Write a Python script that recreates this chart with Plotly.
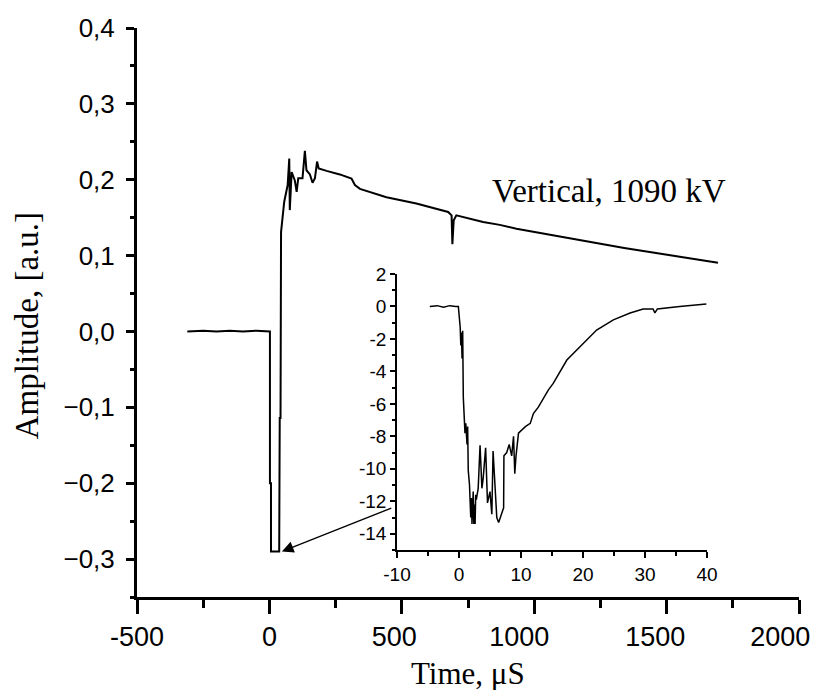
import plotly.graph_objects as go

# main trace: time (us) vs amplitude (a.u.)
main_t = [-310, -250, -200, -150, -100, -50, 2, 2, 6, 6, 37, 39, 42, 44, 56, 62, 69, 75, 77, 84, 96,
          103, 109, 125, 134, 140, 153, 163, 172, 180, 186, 216, 266, 310, 323, 342, 442, 555, 675,
          688, 691, 696, 706, 807, 870, 933, 1058, 1150, 1247, 1340, 1436, 1562, 1694]
main_amp = [0.0, 0.001, 0.0, 0.001, 0.0, 0.001, 0.0, -0.2, -0.2, -0.29, -0.29, -0.114, -0.114, 0.131,
            0.171, 0.182, 0.193, 0.228, 0.160, 0.210, 0.199, 0.184, 0.202, 0.202, 0.238, 0.2125,
            0.207, 0.196, 0.202, 0.224, 0.215, 0.2117, 0.207, 0.2015, 0.193, 0.188, 0.177, 0.1686,
            0.1575, 0.153, 0.115, 0.1465, 0.153, 0.1443, 0.1405, 0.1355, 0.1275, 0.1215, 0.1157,
            0.110, 0.1047, 0.098, 0.0907]

# inset: first 40 us
ins_t = [-4.7, -3.5, -2.5, -1.5, -0.5, -0.1, 0.2, 0.3, 0.4, 0.5, 0.6, 0.7, 0.97, 1.1, 1.3, 1.4, 1.5,
         1.7, 1.9, 2.0, 2.1, 2.2, 2.3, 2.4, 2.5, 2.6, 2.7, 2.8, 3.1, 3.4, 3.7, 3.9, 4.3, 4.6, 5.0,
         5.3, 5.5, 5.8, 6.1, 6.4, 7.2, 7.25, 7.7, 8.1, 8.5, 8.8, 9.0, 9.2, 9.6, 10.7, 11.5, 12.0,
         12.8, 14.4, 15.2, 17.4, 19.5, 22.2, 24.9, 27.6, 29.7, 31.3, 31.6, 32.0, 35.6, 39.9]
ins_amp = [0.0, 0.05, -0.05, 0.05, 0.0, 0.0, -1.3, -2.4, -1.6, -3.2, -1.5, -5.6, -7.8, -7.2, -8.5,
           -7.4, -10.1, -11.0, -13.0, -11.8, -13.4, -12.0, -11.4, -13.4, -12.2, -13.4, -11.6, -11.9,
           -11.2, -8.55, -11.2, -10.6, -8.7, -12.1, -11.4, -12.8, -8.9, -11.2, -13.0, -13.3, -12.4,
           -9.2, -9.0, -8.5, -9.2, -8.0, -10.3, -9.2, -7.8, -7.4, -7.2, -6.6, -6.2, -5.15, -4.74,
           -3.3, -2.5, -1.45, -0.83, -0.4, -0.16, -0.15, -0.4, -0.15, -0.01, 0.15]

main_yticks = [-0.3, -0.2, -0.1, 0.0, 0.1, 0.2, 0.3, 0.4]
main_ylabels = ["\u22120,3", "\u22120,2", "\u22120,1", "0,0", "0,1", "0,2", "0,3", "0,4"]
main_xticks = [-500, 0, 500, 1000, 1500, 2000]
# the original labels sit a little left of their ticks; trailing no-break spaces nudge them
NB = "\u00a0"
main_xlabels = ["-500", "0", "500" + NB * 2, "1000" + NB * 4, "1500" + NB * 3, "2000" + NB * 5]
ins_yticks = [-14, -12, -10, -8, -6, -4, -2, 0, 2]
ins_xticks = [-10, 0, 10, 20, 30, 40]

SANS = "Liberation Sans, Arial, sans-serif"
SERIF = "Liberation Serif, Times New Roman, serif"

fig = go.Figure()
fig.add_trace(go.Scatter(x=main_t, y=main_amp, mode="lines",
                         line=dict(color="black", width=2), xaxis="x", yaxis="y"))
fig.add_trace(go.Scatter(x=ins_t, y=ins_amp, mode="lines",
                         line=dict(color="black", width=1.5), xaxis="x2", yaxis="y2"))

# page body keeps an 8px margin, so the figure is 16px smaller than the window
fig.update_layout(
    width=808, height=682,
    margin=dict(l=129, r=17, t=20, b=93),
    paper_bgcolor="white", plot_bgcolor="rgba(0,0,0,0)",
    showlegend=False,
    xaxis=dict(range=[-500, 2000], tickvals=main_xticks, ticktext=main_xlabels,
               showline=True, linecolor="black", linewidth=3, mirror=False,
               ticks="outside", ticklen=14, tickwidth=3, tickcolor="black",
               minor=dict(dtick=250, tick0=0, ticks="outside", ticklen=8, tickwidth=3, tickcolor="black"),
               showgrid=False, zeroline=False, automargin=False, ticklabeloverflow="allow",
               tickfont=dict(family=SANS, size=27, color="black")),
    yaxis=dict(range=[-0.35, 0.4], tickvals=main_yticks, ticktext=main_ylabels,
               showline=True, linecolor="black", linewidth=3,
               ticks="outside", ticklen=8, tickwidth=3, tickcolor="black",
               minor=dict(dtick=0.05, tick0=0, ticks="outside", ticklen=4, tickwidth=3, tickcolor="black"),
               showgrid=False, zeroline=False, automargin=False, ticklabelstandoff=6,
               tickfont=dict(family=SANS, size=26, color="black")),
    xaxis2=dict(domain=[0.3927, 0.861], anchor="y2", range=[-10, 40], tickvals=ins_xticks,
                ticktext=[str(v) for v in ins_xticks],
                showline=True, linecolor="black", linewidth=1.5,
                ticks="outside", ticklen=6, tickwidth=1.5, tickcolor="black",
                minor=dict(dtick=5, tick0=0, ticks="outside", ticklen=4, tickwidth=1.5, tickcolor="black"),
                showgrid=False, zeroline=False, automargin=False,
                tickfont=dict(family=SANS, size=19, color="black")),
    yaxis2=dict(domain=[0.0826, 0.5677], anchor="x2", range=[-15, 2], tickvals=ins_yticks,
                ticktext=[str(v) for v in ins_yticks],
                showline=True, linecolor="black", linewidth=1.5,
                ticks="outside", ticklen=5, tickwidth=1.5, tickcolor="black",
                minor=dict(dtick=1, tick0=0, ticks="outside", ticklen=3, tickwidth=1.5, tickcolor="black"),
                showgrid=False, zeroline=False, automargin=False,
                tickfont=dict(family=SANS, size=19, color="black")),
    annotations=[
        dict(x=47, y=-0.29, ax=466, ay=-0.232, xref="x", yref="y", axref="x", ayref="y",
             showarrow=True, arrowhead=2, arrowsize=1.8, arrowwidth=1.3, arrowcolor="black", text=""),
        dict(x=1281, y=0.185, xref="x", yref="y", text="Vertical, 1090 kV", showarrow=False,
             xanchor="center", yanchor="middle", font=dict(family=SERIF, size=33, color="black")),
        dict(x=0.5, y=-0.135, xref="paper", yref="paper", text="Time, \u03bcS", showarrow=False,
             xanchor="center", yanchor="middle", font=dict(family=SERIF, size=31, color="black")),
        dict(x=-0.166, y=0.476, xref="paper", yref="paper", text="Amplitude, [a.u.]", showarrow=False,
             textangle=-90, xanchor="center", yanchor="middle",
             font=dict(family=SERIF, size=33, color="black")),
    ],
)

fig.write_html("out.html")
